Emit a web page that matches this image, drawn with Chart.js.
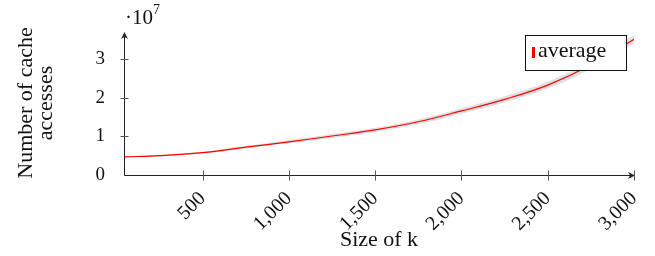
<!DOCTYPE html>
<html><head><meta charset="utf-8">
<script src="https://cdn.jsdelivr.net/npm/chart.js@4/dist/chart.umd.min.js"></script>
<style>html,body{margin:0;padding:0;background:#fff}#wrap{width:655px;height:256px}</style>
</head><body><div id="wrap"><canvas id="c" width="655" height="256"></canvas></div>
<script>
const kSizes = [50, 250, 500, 750, 1000, 1250, 1500, 1750, 2000, 2250, 2500, 2750, 3000];
const avgAccesses = [0.47, 0.50, 0.58, 0.72, 0.86, 1.01, 1.17, 1.38, 1.66, 1.96, 2.33, 2.85, 3.52];
const bandLow = [0.455, 0.48, 0.555, 0.69, 0.82, 0.96, 1.115, 1.32, 1.59, 1.88, 2.24, 2.75, 3.41];
const bandHigh = [0.485, 0.52, 0.605, 0.75, 0.90, 1.06, 1.225, 1.44, 1.73, 2.04, 2.42, 2.95, 3.63];
const xTicks = [500, 1000, 1500, 2000, 2500, 3000];
const yTicks = [0, 1, 2, 3];
const seriesName = 'average';

const FONT = '"Liberation Serif", "DejaVu Serif", serif';
const pts = a => kSizes.map((x, i) => ({x, y: a[i]}));

const decor = {
  id: 'decor',
  afterDraw(chart) {
    const ctx = chart.ctx, ca = chart.chartArea;
    const xs = chart.scales.x, ys = chart.scales.y;
    ctx.save();
    ctx.strokeStyle = '#222'; ctx.fillStyle = '#222'; ctx.lineWidth = 1;
    const bx = Math.round(ca.left) + 0.5, by = Math.round(ca.bottom) + 0.5;
    ctx.beginPath();
    ctx.moveTo(bx, by); ctx.lineTo(bx, ca.top + 2);
    ctx.moveTo(bx, by); ctx.lineTo(ca.right - 2, by);
    ctx.stroke();
    ctx.beginPath();
    ctx.moveTo(bx, ca.top - 1); ctx.lineTo(bx - 3.5, ca.top + 6); ctx.lineTo(bx, ca.top + 4); ctx.lineTo(bx + 3.5, ca.top + 6); ctx.closePath(); ctx.fill();
    ctx.beginPath();
    ctx.moveTo(ca.right + 1, by); ctx.lineTo(ca.right - 6, by - 3.5); ctx.lineTo(ca.right - 4, by); ctx.lineTo(ca.right - 6, by + 3.5); ctx.closePath(); ctx.fill();
    ctx.strokeStyle = '#555';
    ctx.beginPath();
    xTicks.forEach(v => { const p = Math.round(xs.getPixelForValue(v)) + 0.5; ctx.moveTo(p, by - 5); ctx.lineTo(p, by + 5); });
    yTicks.slice(1).forEach(v => { const p = Math.round(ys.getPixelForValue(v)) + 0.5; ctx.moveTo(bx - 4, p); ctx.lineTo(bx + 4, p); });
    ctx.stroke();
    ctx.fillStyle = '#111';
    ctx.textBaseline = 'alphabetic';
    ctx.textAlign = 'left';
    ctx.font = '21px ' + FONT;
    ctx.fillText('\u00b710', 125, 24);
    ctx.font = '14px ' + FONT;
    ctx.fillText('7', 153, 14);
    ctx.font = '22px ' + FONT;
    ctx.textAlign = 'center';
    ctx.fillText('Size of k', (ca.left + ca.right) / 2, 246);
    ctx.save();
    ctx.translate(32, 103); ctx.rotate(-Math.PI / 2);
    ctx.fillText('Number of cache', 0, 0);
    ctx.fillText('accesses', 0, 20);
    ctx.restore();
    ctx.fillStyle = '#fff';
    ctx.fillRect(525, 35, 102, 35);
    ctx.strokeStyle = '#111';
    ctx.strokeRect(525.5, 35.5, 101, 35);
    ctx.fillStyle = '#ff0000';
    ctx.fillRect(532, 47, 3, 11);
    ctx.fillStyle = '#111';
    ctx.textAlign = 'left';
    ctx.font = '22px ' + FONT;
    ctx.fillText(seriesName, 538, 57);
    ctx.restore();
  }
};

new Chart(document.getElementById('c'), {
  type: 'line',
  data: {
    datasets: [
      {label: seriesName, data: pts(avgAccesses), order: 0, borderColor: '#ff0000', borderWidth: 1.2, pointRadius: 0, tension: 0.4, fill: false},
      {label: 'low', data: pts(bandLow), order: 2, borderWidth: 0, pointRadius: 0, tension: 0.4, fill: false, borderColor: 'rgba(0,0,0,0)'},
      {label: 'high', data: pts(bandHigh), order: 1, borderWidth: 0, pointRadius: 0, tension: 0.4, fill: '-1', backgroundColor: 'rgb(224,224,224)', borderColor: 'rgba(0,0,0,0)'}
    ]
  },
  options: {
    responsive: false, animation: false,
    layout: {padding: {left: 0, right: 18, top: 33, bottom: 0}},
    plugins: {legend: {display: false}, tooltip: {enabled: false}},
    scales: {
      x: {
        type: 'linear', min: 45, max: 3000,
        grid: {display: false}, border: {display: false},
        afterBuildTicks: s => { s.ticks = xTicks.map(v => ({value: v})); },
        afterFit: s => { s.height = 81; },
        ticks: {minRotation: 45, maxRotation: 45, padding: 4, color: '#111', font: {family: FONT, size: 20},
          callback: v => v.toLocaleString('en-US')}
      },
      y: {
        min: 0, max: 3.68,
        grid: {display: false}, border: {display: false},
        afterBuildTicks: s => { s.ticks = yTicks.map(v => ({value: v})); },
        afterFit: s => { s.width = 124; },
        ticks: {padding: 11, color: '#111', font: {family: FONT, size: 19}}
      }
    }
  },
  plugins: [decor]
});
</script></body></html>
